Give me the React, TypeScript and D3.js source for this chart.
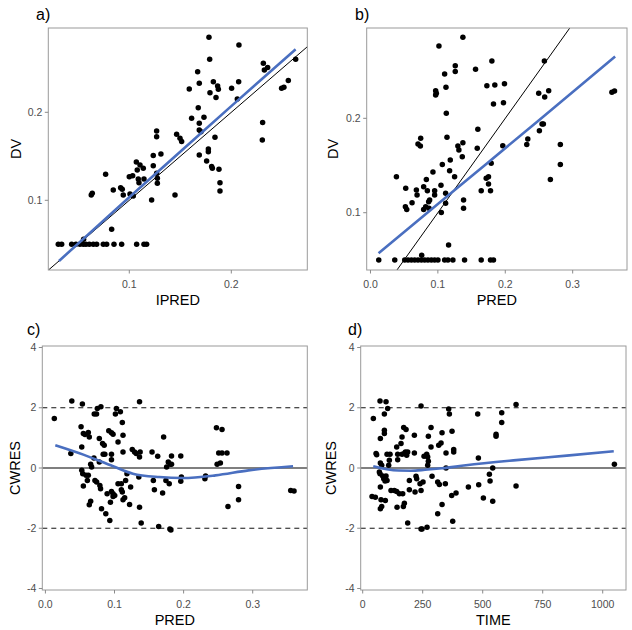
import React from "react";
import * as d3 from "d3";

// ---------- Panel a: DV vs IPRED ----------
const A_IPRED = [0.0304,0.0337,0.0435,0.0477,0.0516,0.0549,0.0575,0.0608,0.0647,0.068,0.0745,0.0778,0.085,0.0925,0.1072,0.1144,0.117,
  0.0552,0.0827,0.0627,0.0637,0.0768,0.0843,0.0915,0.0931,0.0941,0.1,0.1033,0.1007,0.1039,0.1069,0.1078,0.1088,0.1095,0.1105,0.1137,0.1144,
  0.1219,0.1235,0.1235,0.1268,0.1268,0.1268,0.1275,0.1275,0.131,0.1448,0.1464,0.1497,0.1513,0.1588,0.1611,0.167,0.1676,0.1686,0.1686,0.1686,
  0.1703,0.1686,0.1732,0.1758,0.1775,0.1775,0.1781,0.1788,0.1791,0.1807,0.1814,0.1824,0.184,0.185,0.1866,0.1873,0.1879,0.1889,0.1889,
  0.2003,0.2059,0.2075,0.2072,0.2307,0.2304,0.2314,0.2324,0.2356,0.2493,0.2516,0.2559,0.2631];
const A_DV = [0.05,0.05,0.05,0.05,0.05,0.05,0.05,0.05,0.05,0.05,0.05,0.05,0.05,0.05,0.05,0.05,0.05,
  0.0557,0.067,0.106,0.108,0.1295,0.1117,0.1144,0.1125,0.106,0.1269,0.128,0.1072,0.105,0.1436,0.1345,0.1242,0.12,0.14,0.1364,0.1242,
  0.1004,0.1508,0.1394,0.1788,0.1723,0.1307,0.125,0.1193,0.1527,0.106,0.175,0.1705,0.1667,0.2265,0.1932,0.2462,0.2053,0.233,0.1875,0.18,
  0.178,0.1515,0.1943,0.1447,0.1583,0.1553,0.2852,0.2602,0.2223,0.1383,0.1364,0.2348,0.1716,0.2167,0.2299,0.2261,0.1352,0.12,0.1106,
  0.2273,0.2152,0.2765,0.2348,0.1883,0.1686,0.2557,0.2481,0.2508,0.2273,0.2284,0.236,0.2602];
const A_SMOOTH_X = [0.031, 0.1, 0.17, 0.2, 0.263];
const A_SMOOTH_Y = [0.031, 0.1034, 0.176, 0.207, 0.2716];

// ---------- Panel b: DV vs PRED ----------
const B_PRED = [0.0123,0.036,0.0508,0.0557,0.0607,0.0656,0.0705,0.0755,0.0804,0.0853,0.0903,0.0952,0.1001,0.11,0.1149,0.1223,0.1396,0.1643,0.1781,0.1825,
  0.076,0.1159,0.0385,0.0523,0.0518,0.0538,0.0617,0.0681,0.0691,0.0705,0.074,0.0745,0.0789,0.0789,0.0819,0.0829,0.0844,0.0863,0.0878,0.0868,
  0.0927,0.0952,0.0952,0.0967,0.0977,0.0967,0.1016,0.1046,0.1051,0.1066,0.11,0.1115,0.1115,0.112,0.1125,0.1135,0.1174,0.1184,0.1248,0.1258,
  0.1258,0.1297,0.1312,0.1362,0.1371,0.1371,0.1381,0.1381,0.1559,0.1584,0.1593,0.1643,0.1717,0.1751,0.1727,0.1751,0.1781,0.1791,0.1801,0.1825,
  0.1845,0.1963,0.1973,0.1988,0.2319,0.2334,0.2496,0.2506,0.2546,0.2565,0.258,0.2585,0.2644,0.2669,0.2817,0.2817,0.3582,0.3621];
const B_DV = [0.05,0.05,0.05,0.05,0.05,0.05,0.05,0.05,0.05,0.05,0.05,0.05,0.05,0.05,0.05,0.05,0.05,0.05,0.05,0.05,
  0.0548,0.0657,0.1382,0.1258,0.1064,0.1035,0.1106,0.124,0.1187,0.1728,0.1707,0.1788,0.1276,0.1035,0.1064,0.1353,0.1233,0.1117,0.1134,0.1046,
  0.1431,0.1233,0.1187,0.2293,0.2265,0.2247,0.2767,0.129,0.1003,0.1512,0.247,0.1205,0.1099,0.2329,0.2053,0.1799,0.1445,0.1558,0.1382,0.2558,
  0.2495,0.1707,0.1664,0.1594,0.1742,0.2859,0.1134,0.1046,0.2519,0.1682,0.1883,0.1233,0.1364,0.1382,0.2346,0.1304,0.1233,0.1523,0.2608,0.2152,
  0.2353,0.171,0.2166,0.2367,0.1724,0.1781,0.2265,0.1869,0.194,0.194,0.2608,0.2226,0.2293,0.1353,0.1724,0.1512,0.2276,0.229];
const B_SMOOTH_X = [0.012, 0.125, 0.25, 0.363];
const B_SMOOTH_Y = [0.057, 0.124, 0.198, 0.2654];

// ---------- Panel c: CWRES vs PRED ----------
const C_PRED = [0.0129,0.0382,0.0368,0.0535,0.0516,0.0526,0.0526,0.054,0.0549,0.0573,0.0549,0.0588,0.0607,0.0621,0.0635,0.0621,0.0635,0.0655,
  0.0655,0.0669,0.0702,0.0707,0.074,0.0717,0.0751,0.0741,0.078,0.078,0.0788,0.0798,0.0803,0.0812,0.0827,0.0851,0.0836,0.086,0.0874,0.0893,
  0.0917,0.0932,0.0941,0.0956,0.0979,0.0956,0.0956,0.0956,0.0979,0.1003,0.0979,0.1013,0.1027,0.1051,0.1051,0.1085,0.1099,0.1099,0.1113,
  0.1113,0.1123,0.1123,0.1123,0.1147,0.1161,0.118,0.1218,0.1233,0.1257,0.129,0.1314,0.1362,0.1352,0.1362,0.1386,0.1371,0.1362,0.1543,
  0.1562,0.1577,0.1625,0.1639,0.1696,0.1711,0.1744,0.1754,0.1778,0.1792,0.1801,0.1816,0.1806,0.1825,0.1825,0.1959,0.1968,0.1959,0.2308,
  0.2318,0.2475,0.2485,0.2508,0.2532,0.2556,0.2556,0.2628,0.2642,0.2795,0.2795,0.355,0.3598];
const C_CWRES = [1.644,2.222,0.478,2.122,1.367,0.7,-0.078,-0.189,1.144,1.111,-0.6,-0.244,-0.411,1.178,1.033,-0.244,-1.222,-1.1,
  0.122,0.033,0.333,1.789,1.789,-0.411,1.978,-0.467,0.978,0.2,-0.578,-0.689,2.033,-1.356,0.811,0.756,0.456,0.456,-1.522,-0.856,
  1.233,-1.744,-1.133,1.167,1.122,0.456,0.278,-0.778,-0.856,-0.911,-0.944,1.789,1.978,0.867,-0.522,1.867,-0.522,-0.722,-0.8,
  1.511,1.089,0.533,-1.056,-0.989,-0.411,-0.189,-1.211,-0.633,0.611,0.533,0.478,2.2,-0.3,-1.3,-1.822,0.533,0.367,0.533,
  -0.411,-0.722,0.389,-1.944,-0.833,1.033,-0.411,0.033,0.2,-0.522,-2.022,-2.056,0.122,0.4,0.122,0.4,-0.3,-0.444,-0.356,
  -0.267,1.333,0.122,0.5,0.167,1.278,0.5,0.5,-1.278,-0.611,-1.056,-0.744,-0.767];
const C_SMOOTH_X = [0.0143, 0.0549, 0.098, 0.1266, 0.1648, 0.1983, 0.246, 0.2939, 0.3584];
const C_SMOOTH_Y = [0.756, 0.444, 0.056, -0.189, -0.3, -0.333, -0.244, -0.078, 0.056];

// ---------- Panel d: CWRES vs TIME ----------
const D_TIME = [44.4,38.9,52.8,55.6,58.3,72.2,97.2,73.6,73.6,79.2,69.4,72.2,73.6,76.4,73.6,79.2,83.3,87.5,93.1,90.3,90.3,90.3,97.2,101.4,
  94.4,101.4,104.2,108.3,113.9,111.1,118,131.9,141.7,141.7,143.1,145.8,145.8,152.8,159.7,163.9,163.9,173.6,166.7,169.4,173.6,170.8,180.6,
  177.8,187.5,183.3,187.5,194.4,194.4,215.3,215.3,218.1,222.2,225,238.9,243.1,243.1,243.1,247.2,251.4,255.6,266.7,270.8,273.6,270.8,
  268.1,273.6,284.7,284.7,288.9,312.5,319.4,312.5,316.7,326.4,330.6,330.6,344.4,347.2,347.2,358.3,361.1,370.8,372.2,375,379.2,379.2,
  388.9,440.3,479.2,481.9,483.3,502.8,527.8,530.6,541.7,541.7,555.6,555.6,579.2,579.2,638.9,638.9,1048.6];
const D_CWRES = [1.644,-0.944,-0.967,0.478,0.444,2.222,2.2,0.978,0.167,0.089,-0.133,-0.189,-0.633,-1.056,-1.356,-1.278,-0.267,-0.356,-0.433,1.256,1.144,1.789,-0.267,-0.411,
  -1.078,0.456,1.978,0.089,0.456,0.256,-0.744,-0.744,0.7,-0.778,-1.3,0.456,0.278,-0.856,0.811,1.033,0.456,0.478,-0.856,-1.278,-1.167,1.344,1.278,
  0.533,0.533,0.422,-1.822,-0.411,-0.722,1.089,0.5,-0.8,-0.278,-0.356,-0.522,2.056,-0.744,-2.022,-2.022,-0.467,0.389,0.456,0.367,0.222,0.089,
  -1.967,1.056,1.344,0.7,-0.278,-0.467,-0.544,-1.522,0.756,0.833,1.167,-1.211,-0.522,0.5,0.0,1.956,1.789,-0.911,1.222,-1.767,0.611,0.533,
  -0.833,-0.633,1.789,0.333,-0.556,-1.0,-0.211,-0.433,0.0,-1.1,1.122,1.056,1.511,1.833,2.111,-0.6,0.122];
const D_SMOOTH_X = [44, 100, 150, 200, 260, 330, 430, 640, 850, 1046];
const D_SMOOTH_Y = [0.06, -0.04, -0.085, -0.09, -0.06, -0.01, 0.09, 0.26, 0.41, 0.556];

// ---------- tick labels ----------
const A_X_TICKS = [0.1, 0.2];
const A_Y_TICKS = [0.1, 0.2];
const B_X_TICKS = [0.0, 0.1, 0.2, 0.3];
const B_Y_TICKS = [0.1, 0.2];
const C_X_TICKS = [0.0, 0.1, 0.2, 0.3];
const D_X_TICKS = [0, 250, 500, 750, 1000];
const CWRES_TICKS = [-4, -2, 0, 2, 4];

const FONT = "'Liberation Sans', Arial, Helvetica, sans-serif";
const BLUE = "#4a6fc0";

type PanelProps = {
  id: string;
  box: { l: number; r: number; t: number; b: number };
  xDomain: [number, number];
  yDomain: [number, number];
  xTicks: number[];
  yTicks: number[];
  xFmt: (v: number) => string;
  yFmt: (v: number) => string;
  xs: number[];
  ys: number[];
  sx: number[];
  sy: number[];
  identity?: boolean;
  refLines?: boolean;
  label: string;
  labelPos: [number, number];
  xTitle: string;
  yTitle: string;
  yTitleX: number;
};

function Panel(p: PanelProps) {
  const { l, r, t, b } = p.box;
  const x = d3.scaleLinear().domain(p.xDomain).range([l, r]);
  const y = d3.scaleLinear().domain(p.yDomain).range([b, t]);
  const pts = p.xs.map((v, i) => [v, p.ys[i]] as [number, number]);
  const smooth = p.sx.map((v, i) => [v, p.sy[i]] as [number, number]);
  const line = d3
    .line<[number, number]>()
    .x((d) => x(d[0]))
    .y((d) => y(d[1]))
    .curve(d3.curveMonotoneX);
  const lo = Math.min(p.xDomain[0], p.yDomain[0]);
  const hi = Math.max(p.xDomain[1], p.yDomain[1]);
  const clipId = "clip-" + p.id;
  const tickLen = 3.5;
  return (
    <g>
      <defs>
        <clipPath id={clipId}>
          <rect x={l} y={t} width={r - l} height={b - t} />
        </clipPath>
      </defs>
      <g clipPath={`url(#${clipId})`}>
        {p.refLines && (
          <g>
            <line x1={l} x2={r} y1={y(0)} y2={y(0)} stroke="#555" strokeWidth={1.6} />
            {[2, -2].map((v) => (
              <line key={v} x1={l} x2={r} y1={y(v)} y2={y(v)} stroke="#111" strokeWidth={1} strokeDasharray="5,4" />
            ))}
          </g>
        )}
        {pts.map((d, i) => (
          <circle key={i} cx={x(d[0])} cy={y(d[1])} r={2.75} fill="#000" />
        ))}
        {p.identity && (
          <line x1={x(lo)} y1={y(lo)} x2={x(hi)} y2={y(hi)} stroke="#000" strokeWidth={1} />
        )}
        <path d={line(smooth) || ""} fill="none" stroke={BLUE} strokeWidth={2.6} />
      </g>
      <rect x={l} y={t} width={r - l} height={b - t} fill="none" stroke="#9a9a9a" strokeWidth={1} />
      {p.xTicks.map((v) => (
        <g key={"x" + v}>
          <line x1={x(v)} x2={x(v)} y1={b} y2={b + tickLen} stroke="#8a8a8a" />
          <text x={x(v)} y={b + 17.5} textAnchor="middle" fontSize={10.5} fill="#4d4d4d" fontFamily={FONT}>
            {p.xFmt(v)}
          </text>
        </g>
      ))}
      {p.yTicks.map((v) => (
        <g key={"y" + v}>
          <line x1={l - tickLen} x2={l} y1={y(v)} y2={y(v)} stroke="#8a8a8a" />
          <text x={l - 6} y={y(v) + 3.7} textAnchor="end" fontSize={10.5} fill="#4d4d4d" fontFamily={FONT}>
            {p.yFmt(v)}
          </text>
        </g>
      ))}
      <text x={(l + r) / 2} y={b + 35} textAnchor="middle" fontSize={14.5} fill="#000" fontFamily={FONT}>
        {p.xTitle}
      </text>
      <text
        transform={`translate(${p.yTitleX},${(t + b) / 2}) rotate(-90)`}
        textAnchor="middle"
        fontSize={14.5}
        fill="#000"
        fontFamily={FONT}
      >
        {p.yTitle}
      </text>
      <text x={p.labelPos[0]} y={p.labelPos[1]} fontSize={16} fill="#000" fontFamily={FONT}>
        {p.label}
      </text>
    </g>
  );
}

const f1 = (v: number) => v.toFixed(1);
const fi = (v: number) => String(v);

export default function App() {
  return (
    <svg
      width={632}
      height={630}
      style={{ position: "absolute", left: 0, top: 0, background: "#fff" }}
    >
      <rect x={0} y={0} width={632} height={630} fill="#fff" />
      <Panel
        id="a"
        box={{ l: 48.3, r: 307.3, t: 28, b: 270 }}
        xDomain={[0.0206, 0.2745]}
        yDomain={[0.0208, 0.2958]}
        xTicks={A_X_TICKS}
        yTicks={A_Y_TICKS}
        xFmt={f1}
        yFmt={f1}
        xs={A_IPRED}
        ys={A_DV}
        sx={A_SMOOTH_X}
        sy={A_SMOOTH_Y}
        identity
        label="a)"
        labelPos={[36, 20]}
        xTitle="IPRED"
        yTitle="DV"
        yTitleX={21}
      />
      <Panel
        id="b"
        box={{ l: 366.7, r: 627, t: 28, b: 270 }}
        xDomain={[-0.0056, 0.3806]}
        yDomain={[0.0393, 0.2957]}
        xTicks={B_X_TICKS}
        yTicks={B_Y_TICKS}
        xFmt={f1}
        yFmt={f1}
        xs={B_PRED}
        ys={B_DV}
        sx={B_SMOOTH_X}
        sy={B_SMOOTH_Y}
        identity
        label="b)"
        labelPos={[355, 20]}
        xTitle="PRED"
        yTitle="DV"
        yTitleX={338}
      />
      <Panel
        id="c"
        box={{ l: 42.3, r: 307.3, t: 346, b: 590 }}
        xDomain={[-0.0045, 0.379]}
        yDomain={[-4.05, 4.05]}
        xTicks={C_X_TICKS}
        yTicks={CWRES_TICKS}
        xFmt={f1}
        yFmt={fi}
        xs={C_PRED}
        ys={C_CWRES}
        sx={C_SMOOTH_X}
        sy={C_SMOOTH_Y}
        refLines
        label="c)"
        labelPos={[27, 335]}
        xTitle="PRED"
        yTitle="CWRES"
        yTitleX={20}
      />
      <Panel
        id="d"
        box={{ l: 360.7, r: 626, t: 346, b: 590 }}
        xDomain={[-8.3, 1097]}
        yDomain={[-4.05, 4.05]}
        xTicks={D_X_TICKS}
        yTicks={CWRES_TICKS}
        xFmt={fi}
        yFmt={fi}
        xs={D_TIME}
        ys={D_CWRES}
        sx={D_SMOOTH_X}
        sy={D_SMOOTH_Y}
        refLines
        label="d)"
        labelPos={[348, 335]}
        xTitle="TIME"
        yTitle="CWRES"
        yTitleX={336}
      />
    </svg>
  );
}
